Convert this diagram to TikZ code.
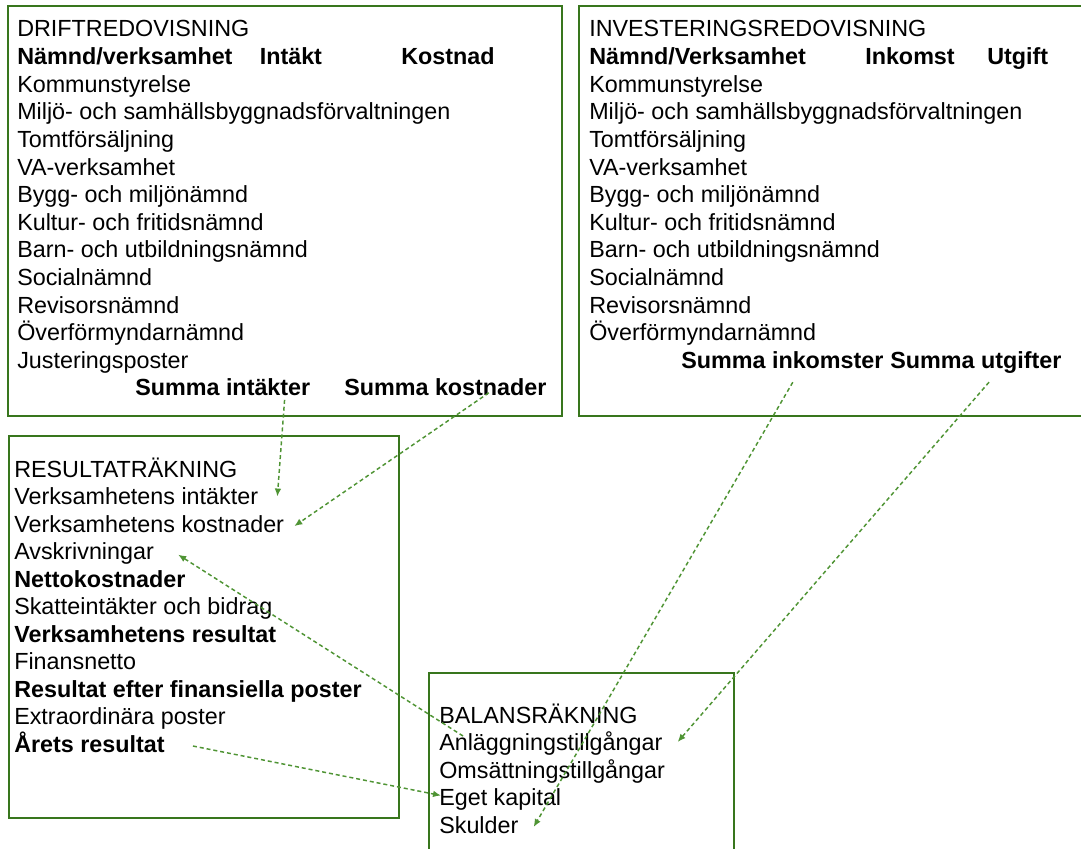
\documentclass[tikz,border=0pt]{standalone}
\usepackage{fontspec}
\setmainfont{Liberation Sans}
\usetikzlibrary{arrows.meta}
\definecolor{boxgreen}{HTML}{38761D}
\definecolor{linkgreen}{HTML}{4F9434}
\begin{document}
\begin{tikzpicture}[x=0.75pt,y=-0.75pt,
    txt/.style={anchor=base west,inner sep=0pt,font=\fontsize{17.5}{21}\selectfont},
    head/.style={txt,font=\fontsize{17.5}{21}\selectfont\bfseries},
    frame/.style={draw=boxgreen,line width=1pt},
    link/.style={draw=linkgreen,line width=1.1pt,dash pattern=on 3pt off 2.2pt,-{Latex[length=6pt,width=5pt]}}]
  \useasboundingbox (0,0) rectangle (1081,849);
  \draw[frame] (8,6) rectangle (562,416);
  \draw[frame] (579,6) rectangle (1095,416);
  \draw[frame] (9,436) rectangle (399,818);
  \draw[frame] (429,673) rectangle (734,870);
  \node[txt] (d1) at (17,37) {DRIFTREDOVISNING};
  \node[head] (dh) at (17,64.6) {Nämnd/verksamhet};
  \node[head] (dhi) at (259.5,64.6) {Intäkt};
  \node[head] (dhk) at (401,64.6) {Kostnad};
  \foreach \t [count=\i from 3] in {Kommunstyrelse,Miljö- och samhällsbyggnadsförvaltningen,Tomtförsäljning,VA-verksamhet,Bygg- och miljönämnd,Kultur- och fritidsnämnd,Barn- och utbildningsnämnd,Socialnämnd,Revisorsnämnd,Överförmyndarnämnd,Justeringsposter}
    \node[txt] (d\i) at (17,{37+27.6*(\i-1)}) {\t};
  \node[head] (dsi) at (135,395.8) {Summa intäkter};
  \node[head] (dsk) at (344,395.8) {Summa kostnader};
  \node[txt] (i1) at (589,37) {INVESTERINGSREDOVISNING};
  \node[head] (ih) at (589,64.6) {Nämnd/Verksamhet};
  \node[head] (ihi) at (865,64.6) {Inkomst};
  \node[head] (ihu) at (987,64.6) {Utgift};
  \foreach \t [count=\i from 3] in {Kommunstyrelse,Miljö- och samhällsbyggnadsförvaltningen,Tomtförsäljning,VA-verksamhet,Bygg- och miljönämnd,Kultur- och fritidsnämnd,Barn- och utbildningsnämnd,Socialnämnd,Revisorsnämnd,Överförmyndarnämnd}
    \node[txt] (i\i) at (589,{37+27.6*(\i-1)}) {\t};
  \node[head] (isi) at (681,368.2) {Summa inkomster};
  \node[head] (isu) at (890,368.2) {Summa utgifter};
  \node[txt] (r1) at (14,477) {RESULTATRÄKNING};
  \foreach \t/\s [count=\i from 2] in {Verksamhetens intäkter/txt,Verksamhetens kostnader/txt,Avskrivningar/txt,Nettokostnader/head,Skatteintäkter och bidrag/txt,Verksamhetens resultat/head,Finansnetto/txt,Resultat efter finansiella poster/head,Extraordinära poster/txt,Årets resultat/head}
    \node[\s] (r\i) at (14,{477+27.55*(\i-1)}) {\t};
  \node[txt] (b1) at (439,723) {BALANSRÄKNING};
  \foreach \t [count=\i from 2] in {Anläggningstillgångar,Omsättningstillgångar,Eget kapital,Skulder}
    \node[txt] (b\i) at (439,{723+27.5*(\i-1)}) {\t};
  \draw[link] ([shift={(-26,4)}]dsi.base east) -- ([shift={(19,-8)}]r2.base east);
  \draw[link] ([shift={(-58,-3)}]dsk.base east) -- ([shift={(10,-6)}]r3.base east);
  \draw[link] ([shift={(24,-14.5)}]b2.base west) -- ([shift={(24,-5)}]r4.base east);
  \draw[link] ([shift={(28,-6.5)}]r11.base east) -- ([shift={(2,-10)}]b4.base west);
  \draw[link] ([shift={(-91,14)}]isi.base east) -- ([shift={(15,-6)}]b5.base east);
  \draw[link] ([shift={(99,14)}]isu.base west) -- ([shift={(15,-8.5)}]b2.base east);
\end{tikzpicture}
\end{document}
